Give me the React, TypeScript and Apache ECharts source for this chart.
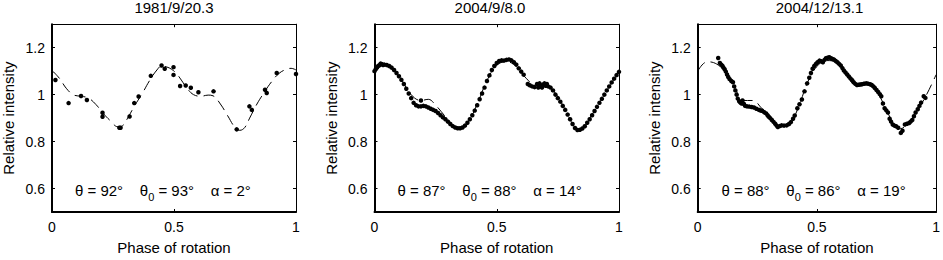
import React, { useEffect, useRef } from "react";
import * as echarts from "echarts";

const titles = ["1981/9/20.3", "2004/9/8.0", "2004/12/13.1"];
const annotations = [
  "θ = 92°    θ{s|0} = 93°    α = 2°",
  "θ = 87°    θ{s|0} = 88°    α = 14°",
  "θ = 88°    θ{s|0} = 86°    α = 19°",
];
const xTicks = [0, 0.5, 1];
const yTicks = [0.6, 0.8, 1, 1.2];

const obs1981 = [
  [0.014, 1.062], [0.068, 0.964], [0.119, 0.994], [0.143, 0.977], [0.207, 0.923], [0.207, 0.906],
  [0.276, 0.859], [0.281, 0.859], [0.318, 0.907], [0.337, 0.964], [0.355, 0.992], [0.405, 1.08],
  [0.449, 1.124], [0.462, 1.11], [0.498, 1.117], [0.498, 1.084], [0.525, 1.037], [0.548, 1.039],
  [0.569, 1.029], [0.6, 1.01], [0.662, 1.014], [0.757, 0.852], [0.809, 0.95], [0.819, 0.935],
  [0.873, 1.021], [0.88, 1.007], [0.921, 1.092], [1.0, 1.088],
];
const model1981 = [
  [0, 1.103], [0.03, 1.07], [0.06, 1.025], [0.09, 0.998], [0.12, 0.993], [0.15, 0.985], [0.18, 0.958],
  [0.21, 0.92], [0.24, 0.888], [0.27, 0.863], [0.29, 0.868], [0.31, 0.9], [0.34, 0.955], [0.37, 1.005],
  [0.4, 1.06], [0.43, 1.105], [0.45, 1.122], [0.47, 1.118], [0.49, 1.108], [0.51, 1.09], [0.53, 1.062],
  [0.555, 1.025], [0.58, 1.0], [0.61, 0.993], [0.64, 0.998], [0.66, 0.995], [0.69, 0.96], [0.72, 0.91],
  [0.75, 0.86], [0.77, 0.848], [0.79, 0.86], [0.81, 0.9], [0.84, 0.96], [0.87, 1.01], [0.9, 1.055],
  [0.93, 1.09], [0.96, 1.108], [0.98, 1.112], [1.0, 1.105],
];

const obs2004a = [
  [0.0, 1.1], [0.005, 1.108], [0.01, 1.115], [0.015, 1.122], [0.02, 1.125], [0.025, 1.132], [0.03, 1.13],
  [0.035, 1.126], [0.04, 1.128], [0.05, 1.126], [0.06, 1.122], [0.07, 1.115], [0.08, 1.105], [0.09, 1.092],
  [0.1, 1.078], [0.11, 1.063], [0.12, 1.045], [0.13, 1.025], [0.14, 1.005], [0.15, 0.985], [0.16, 0.965],
  [0.17, 0.955], [0.18, 0.95], [0.19, 0.95], [0.19, 0.975], [0.2, 0.952], [0.21, 0.95], [0.22, 0.945],
  [0.23, 0.94], [0.24, 0.935], [0.25, 0.93], [0.26, 0.922], [0.27, 0.912], [0.28, 0.903], [0.29, 0.895],
  [0.3, 0.885], [0.31, 0.875], [0.32, 0.866], [0.33, 0.86], [0.34, 0.857], [0.35, 0.857], [0.36, 0.86],
  [0.37, 0.868], [0.38, 0.88], [0.39, 0.895], [0.4, 0.912], [0.41, 0.932], [0.42, 0.955], [0.43, 0.98],
  [0.44, 1.005], [0.45, 1.03], [0.46, 1.058], [0.47, 1.082], [0.48, 1.105], [0.49, 1.122], [0.5, 1.135],
  [0.51, 1.143], [0.52, 1.146], [0.53, 1.145], [0.54, 1.148], [0.55, 1.15], [0.56, 1.146], [0.57, 1.138],
  [0.58, 1.128], [0.59, 1.112], [0.6, 1.098], [0.61, 1.085], [0.627, 1.045], [0.635, 1.04], [0.645, 1.035],
  [0.655, 1.032], [0.665, 1.045], [0.67, 1.03], [0.675, 1.048], [0.68, 1.038], [0.685, 1.03], [0.69, 1.042],
  [0.695, 1.048], [0.7, 1.038], [0.705, 1.045], [0.71, 1.035], [0.72, 1.03], [0.73, 1.018], [0.74, 1.0],
  [0.75, 0.985], [0.76, 0.97], [0.77, 0.952], [0.78, 0.935], [0.79, 0.915], [0.8, 0.895], [0.81, 0.875],
  [0.82, 0.858], [0.83, 0.849], [0.84, 0.85], [0.85, 0.856], [0.86, 0.865], [0.87, 0.88], [0.88, 0.895],
  [0.89, 0.912], [0.9, 0.93], [0.91, 0.948], [0.92, 0.965], [0.93, 0.982], [0.94, 1.0], [0.95, 1.018],
  [0.96, 1.035], [0.97, 1.052], [0.98, 1.068], [0.99, 1.083], [1.0, 1.097],
];
const model2004a = [
  [0, 1.1], [0.03, 1.125], [0.06, 1.12], [0.1, 1.08], [0.15, 1.0], [0.19, 0.975], [0.22, 0.98],
  [0.25, 0.955], [0.3, 0.895], [0.34, 0.86], [0.38, 0.88], [0.42, 0.96], [0.46, 1.06], [0.5, 1.125],
  [0.54, 1.14], [0.58, 1.12], [0.62, 1.07], [0.66, 1.04], [0.7, 1.04], [0.74, 1.005], [0.78, 0.935],
  [0.82, 0.86], [0.84, 0.85], [0.88, 0.9], [0.94, 1.0], [1.0, 1.1],
];

const obs2004b = [
  [0.086, 1.156], [0.093, 1.135], [0.099, 1.128], [0.104, 1.122], [0.108, 1.115], [0.113, 1.108],
  [0.118, 1.098], [0.123, 1.086], [0.128, 1.075], [0.134, 1.066], [0.141, 1.058], [0.148, 1.053],
  [0.153, 1.035], [0.158, 1.018], [0.163, 1.0], [0.168, 0.983], [0.174, 0.972], [0.179, 0.966],
  [0.184, 0.962], [0.188, 0.975], [0.194, 0.96], [0.199, 0.952], [0.207, 0.95], [0.216, 0.949],
  [0.226, 0.947], [0.236, 0.945], [0.246, 0.94], [0.257, 0.935], [0.264, 0.932], [0.27, 0.931],
  [0.279, 0.925], [0.287, 0.92], [0.293, 0.912], [0.298, 0.906], [0.304, 0.9], [0.311, 0.892],
  [0.318, 0.884], [0.325, 0.876], [0.331, 0.868], [0.336, 0.862], [0.344, 0.866], [0.352, 0.869],
  [0.362, 0.868], [0.373, 0.869], [0.383, 0.875], [0.391, 0.883], [0.4, 0.897], [0.407, 0.911],
  [0.418, 0.942], [0.427, 0.959], [0.437, 0.979], [0.448, 1.014], [0.459, 1.048], [0.468, 1.072],
  [0.475, 1.092], [0.482, 1.11], [0.489, 1.122], [0.496, 1.131], [0.503, 1.138], [0.511, 1.145],
  [0.518, 1.142], [0.525, 1.138], [0.532, 1.148], [0.538, 1.155], [0.545, 1.157], [0.552, 1.159],
  [0.559, 1.155], [0.565, 1.152], [0.572, 1.149], [0.579, 1.143], [0.586, 1.138], [0.593, 1.131],
  [0.6, 1.124], [0.607, 1.113], [0.613, 1.103], [0.62, 1.094], [0.627, 1.086], [0.634, 1.077],
  [0.641, 1.069], [0.648, 1.061], [0.654, 1.053], [0.661, 1.046], [0.668, 1.041], [0.675, 1.042],
  [0.682, 1.043], [0.689, 1.044], [0.696, 1.046], [0.702, 1.047], [0.709, 1.048], [0.716, 1.046],
  [0.723, 1.044], [0.73, 1.041], [0.737, 1.035], [0.743, 1.028], [0.75, 1.02], [0.757, 1.011],
  [0.764, 1.002], [0.77, 0.993], [0.777, 0.962], [0.784, 0.942], [0.791, 0.933], [0.798, 0.924],
  [0.805, 0.897], [0.811, 0.885], [0.818, 0.873], [0.825, 0.868], [0.832, 0.865], [0.841, 0.859],
  [0.852, 0.837], [0.859, 0.846], [0.869, 0.873], [0.878, 0.876], [0.887, 0.879], [0.893, 0.885],
  [0.9, 0.892], [0.907, 0.908], [0.914, 0.924], [0.923, 0.938], [0.93, 0.952], [0.937, 0.966],
  [0.948, 0.993], [0.955, 0.986],
];
const model2004b = [
  [0, 1.1], [0.04, 1.14], [0.08, 1.13], [0.12, 1.09], [0.16, 1.02], [0.19, 0.975], [0.23, 0.975],
  [0.27, 0.94], [0.31, 0.9], [0.34, 0.865], [0.38, 0.87], [0.42, 0.94], [0.46, 1.05], [0.5, 1.12],
  [0.54, 1.145], [0.58, 1.14], [0.62, 1.09], [0.66, 1.045], [0.7, 1.045], [0.74, 1.03], [0.78, 0.96],
  [0.82, 0.88], [0.85, 0.855], [0.88, 0.875], [0.92, 0.93], [0.96, 1.0], [1.0, 1.085],
];

const observed = [obs1981, obs2004a, obs2004b];
const models = [model1981, model2004a, model2004b];

// layout
const FONT = '"Liberation Sans", Arial, Helvetica, sans-serif';
const GRID_TOP = 24.2;
const GRID_H = 193.3;
const GRIDS = [
  { left: 52, width: 244 },
  { left: 374.5, width: 244.5 },
  { left: 697.7, width: 244 },
];
const TITLE_X = [174, 490, 819.5];
const ANNOT_X = [75, 397.5, 721.5];
const ANNOT_Y = 190;

export default function App() {
  const ref = useRef<HTMLDivElement>(null);
  useEffect(() => {
    if (!ref.current) return;
    const chart = echarts.init(ref.current, undefined, { renderer: "svg" });
    const grid: any[] = [];
    const xAxis: any[] = [];
    const yAxis: any[] = [];
    const series: any[] = [];
    const title: any[] = [];
    const graphic: any[] = [];
    const black = "#000";
    GRIDS.forEach((g, i) => {
      grid.push({ left: g.left, width: g.width, top: GRID_TOP, height: GRID_H, containLabel: false });
      const tick = { show: true, inside: true, length: 3, lineStyle: { color: black, width: 1 }, customValues: xTicks };
      xAxis.push({
        type: "value", gridIndex: i, min: 0, max: 1, position: "bottom",
        axisLine: { show: true, onZero: false, lineStyle: { color: black, width: 2 } },
        axisTick: tick,
        axisLabel: { color: black, fontSize: 14, fontFamily: FONT, margin: 8, customValues: xTicks },
        splitLine: { show: false },
        name: "Phase of rotation", nameLocation: "middle", nameGap: 28,
        nameTextStyle: { color: black, fontSize: 15, fontFamily: FONT },
      });
      xAxis.push({
        type: "value", gridIndex: i, min: 0, max: 1, position: "top",
        axisLine: { show: true, onZero: false, lineStyle: { color: black, width: 1 } },
        axisTick: tick,
        axisLabel: { show: false },
        splitLine: { show: false },
      });
      const ytick = { show: true, inside: true, length: 3, lineStyle: { color: black, width: 1 }, customValues: yTicks };
      yAxis.push({
        type: "value", gridIndex: i, min: 0.5, max: 1.3, position: "left",
        axisLine: { show: true, onZero: false, lineStyle: { color: black, width: 2 } },
        axisTick: ytick,
        axisLabel: { color: black, fontSize: 14, fontFamily: FONT, margin: 7, customValues: yTicks },
        splitLine: { show: false },
        name: "Relative intensity", nameLocation: "middle", nameGap: 36,
        nameTextStyle: { color: black, fontSize: 15, fontFamily: FONT },
      });
      yAxis.push({
        type: "value", gridIndex: i, min: 0.5, max: 1.3, position: "right",
        axisLine: { show: true, onZero: false, lineStyle: { color: black, width: 1 } },
        axisTick: ytick,
        axisLabel: { show: false },
        splitLine: { show: false },
      });
      series.push({
        type: "line", xAxisIndex: 2 * i, yAxisIndex: 2 * i, data: models[i],
        showSymbol: false, smooth: 0.4, clip: true, z: 2,
        lineStyle: { color: black, width: 1, type: [11, 6] },
      });
      series.push({
        type: "scatter", xAxisIndex: 2 * i, yAxisIndex: 2 * i, data: observed[i],
        symbol: "circle", symbolSize: 4.5, itemStyle: { color: black, opacity: 1 }, z: 3,
      });
      title.push({
        text: titles[i], left: TITLE_X[i], top: 0, textAlign: "center", padding: 0,
        textStyle: { color: black, fontSize: 15, fontWeight: "normal", fontFamily: FONT },
      });
      graphic.push({
        type: "text", x: ANNOT_X[i], y: ANNOT_Y, z: 10,
        style: {
          text: annotations[i], fill: black, fontSize: 15, fontFamily: FONT,
          align: "left", verticalAlign: "middle",
          rich: { s: { fontSize: 11, fontFamily: FONT, fill: black, padding: [13, 0, 0, 0] } },
        },
      });
    });
    chart.setOption({
      animation: false,
      backgroundColor: "#fff",
      title, grid, xAxis, yAxis, series, graphic,
    });
    return () => chart.dispose();
  }, []);
  return (
    <div
      ref={ref}
      style={{ position: "fixed", left: 0, top: 0, width: 943, height: 260, background: "#fff" }}
    />
  );
}
